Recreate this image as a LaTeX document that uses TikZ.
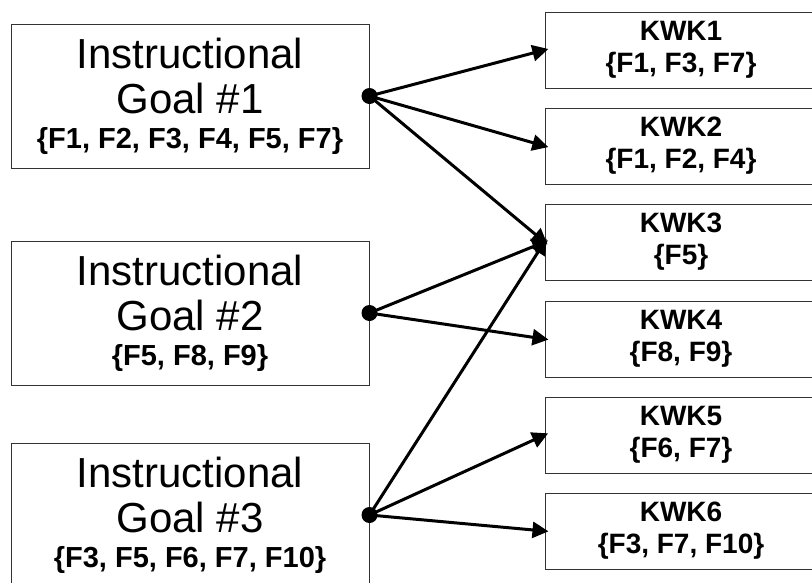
\documentclass[tikz,border=0pt]{standalone}
\usepackage{fontspec}
\setmainfont{Liberation Sans}
\usetikzlibrary{arrows.meta}
\definecolor{boxline}{HTML}{333333}
\definecolor{wire}{HTML}{000000}

\tikzset{
  goalbox/.style={draw=boxline, line width=1pt, minimum width=358pt,
    minimum height=144pt, inner sep=0pt, align=center,
    font=\fontsize{42}{45}\selectfont},
  kwkbox/.style={draw=boxline, line width=1pt, minimum width=272pt,
    minimum height=76pt, inner sep=0pt, align=center,
    font=\fontsize{28}{32}\selectfont\bfseries},
  link/.style={wire, line width=3pt, -{Triangle[length=16pt,width=16pt]},
    shorten >=-4pt},
}
\newcommand{\fset}[1]{\fontsize{29}{32}\selectfont\bfseries\{#1\}}

\begin{document}
\begin{tikzpicture}[x=1pt,y=-1pt]
  \useasboundingbox (0,0) rectangle (812,582);
  \clip (0,0) rectangle (812,582);

  % Instructional goals
  \node[goalbox] (goal1) at (190,96) {Instructional\\Goal \#1\\[-10pt]\fset{F1, F2, F3, F4, F5, F7}};
  \node[goalbox] (goal2) at (190,313) {Instructional\\Goal \#2\\[-10pt]\fset{F5, F8, F9}};
  \node[goalbox] (goal3) at (190,515) {Instructional\\Goal \#3\\[-10pt]\fset{F3, F5, F6, F7, F10}};

  % KWK boxes
  \node[kwkbox] (kwk1) at (681,50) {KWK1\\\{F1, F3, F7\}};
  \node[kwkbox] (kwk2) at (681,146) {KWK2\\\{F1, F2, F4\}};
  \node[kwkbox] (kwk3) at (681,242) {KWK3\\\{F5\}};
  \node[kwkbox] (kwk4) at (681,339) {KWK4\\\{F8, F9\}};
  \node[kwkbox] (kwk5) at (681,435) {KWK5\\\{F6, F7\}};
  \node[kwkbox] (kwk6) at (681,531) {KWK6\\\{F3, F7, F10\}};

  % Links
  \draw[link] (goal1.east) -- (kwk1.west);
  \draw[link] (goal1.east) -- (kwk2.west);
  \draw[link] (goal1.east) -- (kwk3.west);
  \draw[link] (goal2.east) -- (kwk3.west);
  \draw[link] (goal2.east) -- (kwk4.west);
  \draw[link] (goal3.east) -- (kwk3.west);
  \draw[link] (goal3.east) -- (kwk5.west);
  \draw[link] (goal3.east) -- (kwk6.west);

  % Dots
  \fill[wire] (goal1.east) circle (8pt);
  \fill[wire] (goal2.east) circle (8pt);
  \fill[wire] (goal3.east) circle (8pt);
\end{tikzpicture}
\end{document}
